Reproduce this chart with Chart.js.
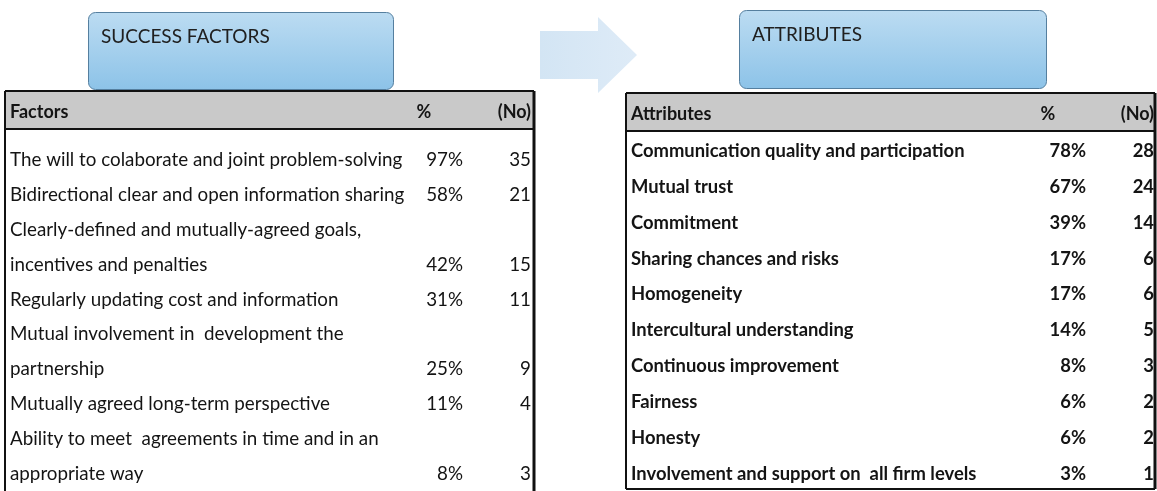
<!DOCTYPE html>
<html>
<head>
<meta charset="utf-8">
<script src="https://cdn.jsdelivr.net/npm/chart.js@4.4.0/dist/chart.umd.min.js"></script>
<style>
  body { margin: 0; background: #fff; overflow: hidden; }
  #wrap { position: relative; width: 1157px; height: 491px; }
  canvas { position: absolute; left: 0; top: 0; }
</style>
</head>
<body>
<div id="wrap">
  <canvas id="factors" width="1157" height="491"></canvas>
  <canvas id="attributes" width="1157" height="491"></canvas>
</div>
<script>
// success factors (wrapped rows keep their text lines together)
const factorLabels = [
  ["The will to colaborate and joint problem-solving"],
  ["Bidirectional clear and open information sharing"],
  ["Clearly-defined and mutually-agreed goals,", "incentives and penalties"],
  ["Regularly updating cost and information"],
  ["Mutual involvement in  development the", "partnership"],
  ["Mutually agreed long-term perspective"],
  ["Ability to meet  agreements in time and in an", "appropriate way"],
];
const factorPct = [97, 58, 42, 31, 25, 11, 8];
const factorNo = [35, 21, 15, 11, 9, 4, 3];

// attributes
const attributeLabels = [
  "Communication quality and participation",
  "Mutual trust",
  "Commitment",
  "Sharing chances and risks",
  "Homogeneity",
  "Intercultural understanding",
  "Continuous improvement",
  "Fairness",
  "Honesty",
  "Involvement and support on  all firm levels",
];
const attributePct = [78, 67, 39, 17, 17, 14, 8, 6, 6, 3];
const attributeNo = [28, 24, 14, 6, 6, 5, 3, 2, 2, 1];

const columnHeads = ["%", "(No)"];

// one text line per category; the value sits on the last line of a row
function toLines(labels, pct, no) {
  const lines = [], p = [], n = [];
  labels.forEach((l, i) => {
    const parts = Array.isArray(l) ? l : [l];
    parts.forEach((t, j) => {
      lines.push(t);
      const last = j === parts.length - 1;
      p.push(last ? pct[i] : null);
      n.push(last ? no[i] : null);
    });
  });
  return { lines, p, n };
}

const decorations = {
  id: "decorations",
  beforeDraw: (chart) => {
    const opts = chart.options.plugins.decorations;
    if (!opts || !opts.boxes) return;
    const ctx = chart.ctx;
    ctx.save();
    // arrow between the two tables
    if (opts.arrow) {
      const a = opts.arrow;
      const g = ctx.createLinearGradient(a.x0, 0, a.tip, 0);
      g.addColorStop(0, "#d3e5f4");
      g.addColorStop(1, "#deebf7");
      ctx.fillStyle = g;
      ctx.beginPath();
      ctx.moveTo(a.x0, a.bodyTop);
      ctx.lineTo(a.headX, a.bodyTop);
      ctx.lineTo(a.headX, a.headTop);
      ctx.lineTo(a.tip, a.mid);
      ctx.lineTo(a.headX, a.headBottom);
      ctx.lineTo(a.headX, a.bodyBottom);
      ctx.lineTo(a.x0, a.bodyBottom);
      ctx.closePath();
      ctx.fill();
    }
    opts.boxes.forEach((b) => {
      const g = ctx.createLinearGradient(0, b.y, 0, b.y + b.h);
      g.addColorStop(0, "#bcdcf2");
      g.addColorStop(1, "#8dc3e8");
      ctx.fillStyle = g;
      ctx.strokeStyle = "#557f9f";
      ctx.lineWidth = 1;
      ctx.beginPath();
      ctx.roundRect(b.x + 0.5, b.y + 0.5, b.w, b.h, 7);
      ctx.fill();
      ctx.stroke();
      ctx.fillStyle = "#202020";
      ctx.font = "19px Lato, 'Open Sans', sans-serif";
      ctx.textBaseline = "middle";
      ctx.textAlign = "left";
      ctx.fillText(b.text, b.x + 13, b.y + 25);
    });
    ctx.restore();
  },
};

const tablePlugin = {
  id: "tablePlugin",
  afterDraw: (chart) => {
    const t = chart.options.plugins.tablePlugin;
    const ctx = chart.ctx;
    const yScale = chart.scales.y;
    ctx.save();
    // header band
    ctx.fillStyle = "#c9c9c9";
    ctx.fillRect(t.left, t.headTop, t.right - t.left, t.headBottom - t.headTop);
    ctx.strokeStyle = "#111";
    ctx.lineWidth = 2;
    ctx.beginPath();
    ctx.moveTo(t.left, t.headTop);
    ctx.lineTo(t.right, t.headTop);
    ctx.moveTo(t.left, t.headBottom);
    ctx.lineTo(t.right, t.headBottom);
    ctx.moveTo(t.left, t.headTop);
    ctx.lineTo(t.left, t.bottom);
    if (t.closed) {
      ctx.moveTo(t.left, t.bottom);
      ctx.lineTo(t.right, t.bottom);
    }
    ctx.stroke();
    ctx.lineWidth = 3;
    ctx.beginPath();
    ctx.moveTo(t.right, t.headTop);
    ctx.lineTo(t.right, t.bottom);
    ctx.stroke();

    // header text
    ctx.fillStyle = "#141414";
    ctx.textBaseline = "middle";
    ctx.font = "bold 18px Lato, 'Open Sans', sans-serif";
    const hy = (t.headTop + t.headBottom) / 2 + 2;
    ctx.textAlign = "left";
    ctx.fillText(t.title, t.left + 5, hy);
    ctx.textAlign = "center";
    ctx.fillText(columnHeads[0], t.pctHeadX, hy);
    ctx.textAlign = "right";
    ctx.fillText(columnHeads[1], t.noX, hy);

    // rows
    ctx.font = t.font;
    const labels = chart.data.labels;
    const pct = chart.data.datasets[0].data;
    const no = chart.data.datasets[1].data;
    labels.forEach((label, i) => {
      const y = yScale.getPixelForValue(i);
      ctx.textAlign = "left";
      ctx.fillText(label, t.left + 5, y);
      ctx.textAlign = "right";
      if (pct[i] !== null) ctx.fillText(pct[i] + "%", t.pctX, y);
      if (no[i] !== null) ctx.fillText(String(no[i]), t.noX, y);
    });
    ctx.restore();
  },
};

function tableConfig(rows, padTop, padBottom, table, deco) {
  return {
    type: "bar",
    data: {
      labels: rows.lines,
      datasets: [
        { label: "%", data: rows.p, backgroundColor: "rgba(0,0,0,0)" },
        { label: "(No)", data: rows.n, backgroundColor: "rgba(0,0,0,0)" },
      ],
    },
    options: {
      indexAxis: "y",
      responsive: false,
      animation: false,
      events: [],
      devicePixelRatio: 1,
      layout: { padding: { top: padTop, bottom: padBottom, left: 0, right: 0 } },
      plugins: {
        legend: { display: false },
        tooltip: { enabled: false },
        tablePlugin: table,
        decorations: deco,
      },
      scales: {
        x: { display: false, min: 0, max: 100 },
        y: { type: "category", display: false, offset: false },
      },
    },
    plugins: [decorations, tablePlugin],
  };
}

const factorRows = toLines(factorLabels, factorPct, factorNo);
const attributeRows = toLines(attributeLabels, attributePct, attributeNo);

new Chart(
  document.getElementById("factors"),
  tableConfig(
    factorRows, 160, 17,
    {
      title: "Factors", left: 5, right: 534, headTop: 91, headBottom: 129, bottom: 491,
      closed: false, pctX: 463, pctHeadX: 424, noX: 531,
      font: "18.8px Lato, 'Open Sans', sans-serif",
    },
    {
      arrow: { x0: 540, headX: 598, tip: 637, bodyTop: 31, bodyBottom: 79, headTop: 17, headBottom: 93, mid: 55 },
      boxes: [
        { x: 88, y: 12, w: 305, h: 77, text: "SUCCESS FACTORS" },
        { x: 739, y: 10, w: 307, h: 78, text: "ATTRIBUTES" },
      ],
    }
  )
);

new Chart(
  document.getElementById("attributes"),
  tableConfig(
    attributeRows, 151, 17,
    {
      title: "Attributes", left: 626, right: 1155, headTop: 93, headBottom: 131, bottom: 489,
      closed: true, pctX: 1086, pctHeadX: 1048, noX: 1154,
      font: "bold 18.4px Lato, 'Open Sans', sans-serif",
    },
    {}
  )
);
</script>
</body>
</html>
